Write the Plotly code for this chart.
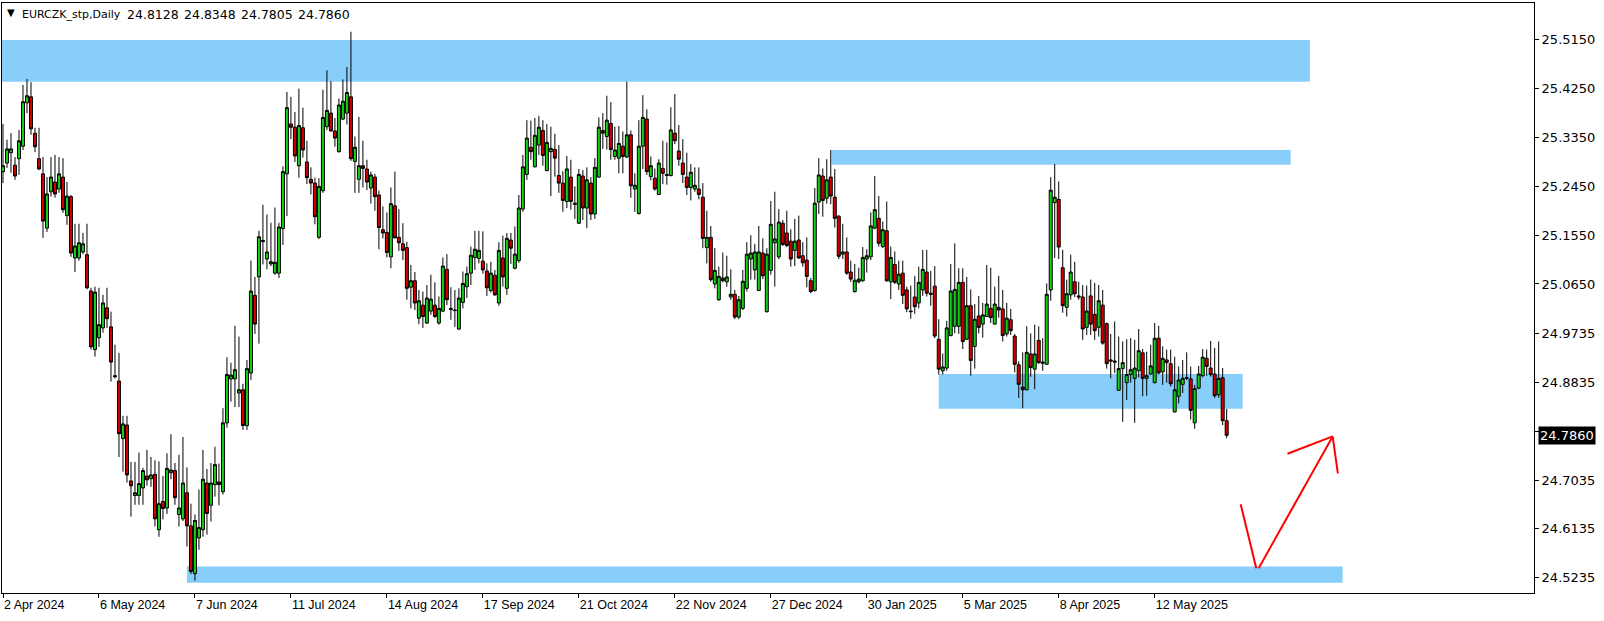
import plotly.graph_objects as go

# ---------------- data ----------------
opens = [
    25.272, 25.288, 25.307, 25.284, 25.296, 25.319, 25.399, 25.410, 25.343, 25.296,
    25.268, 25.168, 25.235, 25.253, 25.240, 25.262, 25.191, 25.226, 25.113, 25.113,
    25.124, 25.119, 25.052, 24.944, 24.966, 24.984, 25.021, 24.986, 24.896, 24.886,
    24.780, 24.805, 24.702, 24.675, 24.675, 24.689, 24.711, 24.706, 24.714, 24.612,
    24.664, 24.652, 24.717, 24.721, 24.640, 24.632, 24.680, 24.619, 24.531, 24.597,
    24.612, 24.698, 24.657, 24.695, 24.700, 24.682, 24.809, 24.890, 24.890, 24.864,
    24.870, 24.804, 24.901, 25.044, 25.078, 25.143, 25.111, 25.102, 25.085, 25.085,
    25.167, 25.268, 25.360, 25.354, 25.283, 25.353, 25.290, 25.258, 25.251, 25.151,
    25.237, 25.355, 25.380, 25.347, 25.309, 25.369, 25.380, 25.410, 25.291, 25.258,
    25.283, 25.277, 25.242, 25.262, 25.229, 25.165, 25.160, 25.115, 25.209, 25.151,
    25.139, 25.132, 25.059, 25.071, 25.002, 25.026, 24.993, 25.015, 25.026, 24.993,
    25.015, 25.092, 25.020, 25.017, 24.982, 25.031, 25.060, 25.085, 25.114, 25.112,
    25.107, 25.089, 25.053, 25.081, 25.030, 25.113, 25.057, 25.146, 25.094, 25.108,
    25.203, 25.267, 25.317, 25.281, 25.321, 25.348, 25.274, 25.309, 25.313, 25.265,
    25.251, 25.217, 25.262, 25.214, 25.177, 25.264, 25.205, 25.251, 25.194, 25.262,
    25.348, 25.337, 25.361, 25.300, 25.297, 25.319, 25.299, 25.340, 25.240, 25.195,
    25.319, 25.369, 25.263, 25.260, 25.230, 25.278, 25.267, 25.265, 25.343, 25.310,
    25.288, 25.262, 25.243, 25.240, 25.240, 25.225, 25.132, 25.151, 25.065, 25.036,
    25.076, 25.069, 25.041, 25.046, 25.004, 25.020, 25.057, 25.111, 25.091, 25.053,
    25.122, 25.014, 25.090, 25.141, 25.115, 25.177, 25.159, 25.144, 25.127, 25.146,
    25.117, 25.109, 25.071, 25.053, 25.216, 25.264, 25.223, 25.262, 25.225, 25.190,
    25.120, 25.124, 25.087, 25.051, 25.069, 25.071, 25.111, 25.115, 25.168, 25.186,
    25.134, 25.163, 25.069, 25.101, 25.065, 25.085, 25.054, 25.015, 25.041, 25.030,
    25.054, 25.087, 25.048, 25.061, 24.963, 24.905, 24.910, 24.970, 24.987, 24.987,
    25.068, 24.963, 25.025, 24.950, 25.006, 24.991, 25.005, 25.020, 24.991, 25.022,
    25.019, 24.973, 24.999, 24.969, 24.916, 24.875, 24.870, 24.936, 24.908, 24.961,
    24.921, 24.917, 25.054, 25.215, 25.221, 25.095, 25.022, 25.045, 25.069, 25.043,
    25.041, 24.985, 25.043, 25.009, 24.985, 25.026, 24.992, 24.925, 24.923, 24.869,
    24.909, 24.883, 24.898, 24.891, 24.905, 24.938, 24.891, 24.899, 24.883, 24.965,
    24.903, 24.925, 24.918, 24.829, 24.858, 24.880, 24.891, 24.890, 24.809, 24.873,
    24.896, 24.928, 24.910, 24.899, 24.861, 24.892, 24.8128,
]
highs = [
    25.360, 25.331, 25.343, 25.299, 25.349, 25.432, 25.443, 25.437, 25.353, 25.353,
    25.299, 25.262, 25.299, 25.303, 25.299, 25.297, 25.253, 25.229, 25.176, 25.176,
    25.159, 25.176, 25.058, 25.060, 25.058, 25.045, 25.058, 25.014, 24.953, 24.938,
    24.822, 24.822, 24.737, 24.737, 24.754, 24.726, 24.759, 24.746, 24.740, 24.738,
    24.711, 24.753, 24.788, 24.735, 24.750, 24.783, 24.727, 24.660, 24.640, 24.686,
    24.759, 24.724, 24.735, 24.765, 24.734, 24.836, 24.930, 24.920, 24.988, 24.968,
    24.881, 24.925, 25.108, 25.078, 25.163, 25.211, 25.193, 25.178, 25.206, 25.178,
    25.282, 25.419, 25.410, 25.382, 25.425, 25.390, 25.329, 25.280, 25.261, 25.260,
    25.423, 25.459, 25.439, 25.371, 25.407, 25.442, 25.465, 25.530, 25.337, 25.373,
    25.329, 25.294, 25.272, 25.268, 25.237, 25.208, 25.197, 25.243, 25.272, 25.203,
    25.177, 25.143, 25.100, 25.087, 25.054, 25.051, 25.063, 25.082, 25.068, 25.042,
    25.114, 25.120, 25.059, 25.054, 25.057, 25.088, 25.097, 25.134, 25.163, 25.163,
    25.162, 25.103, 25.106, 25.091, 25.142, 25.154, 25.159, 25.159, 25.171, 25.229,
    25.303, 25.367, 25.366, 25.371, 25.375, 25.367, 25.360, 25.355, 25.342, 25.321,
    25.273, 25.301, 25.294, 25.245, 25.277, 25.275, 25.280, 25.262, 25.297, 25.372,
    25.380, 25.412, 25.400, 25.355, 25.356, 25.346, 25.438, 25.348, 25.269, 25.367,
    25.413, 25.387, 25.300, 25.278, 25.295, 25.329, 25.326, 25.391, 25.415, 25.358,
    25.332, 25.307, 25.286, 25.280, 25.280, 25.251, 25.200, 25.172, 25.131, 25.097,
    25.123, 25.117, 25.092, 25.054, 25.043, 25.091, 25.142, 25.155, 25.139, 25.172,
    25.149, 25.131, 25.218, 25.235, 25.203, 25.183, 25.200, 25.166, 25.185, 25.191,
    25.142, 25.151, 25.076, 25.242, 25.297, 25.278, 25.295, 25.312, 25.277, 25.192,
    25.176, 25.151, 25.108, 25.102, 25.095, 25.133, 25.129, 25.197, 25.264, 25.227,
    25.180, 25.217, 25.134, 25.125, 25.108, 25.108, 25.060, 25.062, 25.080, 25.097,
    25.128, 25.128, 25.089, 25.098, 25.000, 24.937, 24.997, 25.102, 25.140, 25.094,
    25.094, 25.078, 25.055, 25.028, 25.043, 25.030, 25.100, 25.095, 25.060, 25.080,
    25.054, 25.030, 25.019, 24.973, 24.922, 24.939, 24.987, 24.974, 24.990, 24.987,
    24.965, 25.066, 25.262, 25.286, 25.254, 25.128, 25.073, 25.119, 25.106, 25.069,
    25.063, 25.062, 25.073, 25.067, 25.063, 25.054, 24.994, 24.973, 24.996, 24.968,
    24.959, 24.963, 24.965, 24.962, 24.982, 24.945, 24.940, 24.953, 24.993, 24.988,
    24.950, 24.944, 24.944, 24.931, 24.913, 24.925, 24.939, 24.913, 24.879, 24.914,
    24.945, 24.944, 24.960, 24.947, 24.959, 24.910, 24.8348,
]
lows = [
    25.251, 25.279, 25.270, 25.257, 25.266, 25.312, 25.380, 25.340, 25.308, 25.275,
    25.150, 25.161, 25.226, 25.224, 25.233, 25.196, 25.174, 25.115, 25.087, 25.108,
    25.120, 25.055, 24.944, 24.931, 24.949, 24.975, 24.984, 24.885, 24.891, 24.746,
    24.719, 24.699, 24.636, 24.658, 24.658, 24.658, 24.693, 24.691, 24.618, 24.599,
    24.631, 24.641, 24.705, 24.658, 24.618, 24.628, 24.581, 24.530, 24.518, 24.575,
    24.599, 24.603, 24.627, 24.673, 24.657, 24.677, 24.800, 24.848, 24.838, 24.838,
    24.796, 24.796, 24.888, 24.973, 24.955, 25.101, 25.092, 25.098, 25.082, 25.076,
    25.137, 25.190, 25.332, 25.290, 25.261, 25.298, 25.249, 25.230, 25.175, 25.148,
    25.233, 25.349, 25.346, 25.318, 25.307, 25.367, 25.359, 25.292, 25.233, 25.233,
    25.243, 25.238, 25.213, 25.200, 25.129, 25.149, 25.114, 25.094, 25.149, 25.126,
    25.109, 25.036, 25.020, 25.017, 24.991, 24.984, 24.991, 25.008, 25.002, 24.990,
    25.013, 25.026, 24.999, 24.986, 24.980, 25.020, 25.039, 25.063, 25.091, 25.103,
    25.084, 25.043, 25.049, 25.043, 25.025, 25.060, 25.045, 25.102, 25.092, 25.104,
    25.198, 25.257, 25.294, 25.280, 25.303, 25.283, 25.273, 25.227, 25.263, 25.233,
    25.198, 25.205, 25.202, 25.185, 25.176, 25.183, 25.168, 25.183, 25.185, 25.261,
    25.314, 25.313, 25.294, 25.294, 25.269, 25.269, 25.297, 25.224, 25.198, 25.193,
    25.277, 25.266, 25.256, 25.237, 25.229, 25.249, 25.248, 25.263, 25.323, 25.283,
    25.251, 25.229, 25.219, 25.235, 25.221, 25.131, 25.103, 25.069, 25.057, 25.034,
    25.068, 25.060, 25.036, 25.000, 25.000, 25.017, 25.051, 25.073, 25.073, 25.052,
    25.074, 25.012, 25.082, 25.060, 25.111, 25.135, 25.133, 25.097, 25.098, 25.111,
    25.097, 25.059, 25.048, 25.051, 25.194, 25.189, 25.213, 25.212, 25.169, 25.111,
    25.111, 25.082, 25.069, 25.049, 25.066, 25.069, 25.086, 25.109, 25.166, 25.134,
    25.131, 25.069, 25.037, 25.065, 25.054, 25.028, 25.013, 25.001, 25.010, 25.020,
    25.043, 25.042, 25.025, 24.965, 24.898, 24.898, 24.905, 24.968, 24.974, 24.973,
    24.945, 24.962, 24.896, 24.909, 24.974, 24.966, 25.004, 24.993, 24.990, 25.003,
    24.959, 24.968, 24.971, 24.902, 24.855, 24.836, 24.869, 24.894, 24.871, 24.918,
    24.905, 24.916, 25.034, 25.113, 25.111, 25.012, 25.005, 25.036, 25.041, 25.036,
    24.962, 24.971, 24.971, 24.962, 24.968, 24.953, 24.909, 24.891, 24.901, 24.868,
    24.811, 24.851, 24.883, 24.809, 24.893, 24.858, 24.859, 24.898, 24.882, 24.898,
    24.879, 24.883, 24.876, 24.828, 24.845, 24.864, 24.888, 24.815, 24.798, 24.871,
    24.893, 24.896, 24.894, 24.855, 24.855, 24.805, 24.7805,
]
closes = [
    25.283, 25.314, 25.314, 25.264, 25.329, 25.401, 25.412, 25.351, 25.318, 25.277,
    25.181, 25.231, 25.262, 25.231, 25.268, 25.202, 25.227, 25.122, 25.135, 25.141,
    25.139, 25.058, 24.949, 25.050, 24.990, 25.030, 25.001, 24.921, 24.894, 24.789,
    24.807, 24.713, 24.693, 24.680, 24.697, 24.721, 24.704, 24.713, 24.632, 24.660,
    24.651, 24.725, 24.722, 24.671, 24.652, 24.698, 24.619, 24.535, 24.629, 24.616,
    24.705, 24.642, 24.698, 24.732, 24.695, 24.809, 24.898, 24.897, 24.907, 24.870,
    24.804, 24.909, 25.052, 24.991, 25.152, 25.145, 25.124, 25.106, 25.105, 25.170,
    25.272, 25.390, 25.354, 25.301, 25.357, 25.312, 25.261, 25.251, 25.189, 25.245,
    25.372, 25.385, 25.347, 25.334, 25.395, 25.402, 25.418, 25.296, 25.317, 25.283,
    25.278, 25.253, 25.266, 25.226, 25.169, 25.159, 25.123, 25.213, 25.150, 25.141,
    25.127, 25.057, 25.071, 25.030, 25.034, 25.005, 25.039, 25.037, 25.005, 25.020,
    25.098, 25.036, 25.018, 25.016, 25.039, 25.066, 25.084, 25.118, 25.129, 25.127,
    25.091, 25.058, 25.085, 25.045, 25.127, 25.078, 25.149, 25.131, 25.120, 25.205,
    25.281, 25.334, 25.309, 25.339, 25.354, 25.302, 25.326, 25.315, 25.297, 25.251,
    25.219, 25.277, 25.217, 25.212, 25.267, 25.205, 25.257, 25.194, 25.280, 25.354,
    25.343, 25.367, 25.313, 25.312, 25.324, 25.300, 25.340, 25.246, 25.247, 25.319,
    25.372, 25.272, 25.283, 25.240, 25.288, 25.269, 25.265, 25.349, 25.329, 25.295,
    25.267, 25.243, 25.271, 25.247, 25.230, 25.149, 25.151, 25.073, 25.090, 25.079,
    25.071, 25.078, 25.046, 25.004, 25.036, 25.070, 25.120, 25.122, 25.124, 25.124,
    25.080, 25.120, 25.175, 25.148, 25.179, 25.138, 25.136, 25.111, 25.144, 25.113,
    25.104, 25.079, 25.051, 25.214, 25.266, 25.219, 25.257, 25.227, 25.186, 25.116,
    25.124, 25.085, 25.074, 25.072, 25.074, 25.114, 25.117, 25.172, 25.202, 25.140,
    25.165, 25.071, 25.114, 25.068, 25.083, 25.044, 25.019, 25.014, 25.023, 25.068,
    25.092, 25.048, 25.046, 24.969, 24.908, 24.912, 24.984, 25.052, 25.055, 25.068,
    24.959, 25.025, 24.924, 25.000, 24.985, 25.008, 25.028, 25.003, 25.028, 25.017,
    24.970, 25.002, 24.979, 24.917, 24.880, 24.870, 24.939, 24.911, 24.936, 24.920,
    24.919, 25.046, 25.238, 25.225, 25.133, 25.025, 25.047, 25.087, 25.047, 25.041,
    24.982, 25.015, 24.991, 24.979, 25.034, 24.956, 24.918, 24.923, 24.921, 24.909,
    24.920, 24.898, 24.907, 24.910, 24.942, 24.891, 24.896, 24.914, 24.965, 24.901,
    24.928, 24.920, 24.881, 24.870, 24.888, 24.891, 24.892, 24.832, 24.872, 24.899,
    24.930, 24.913, 24.898, 24.859, 24.891, 24.813, 24.7860,
]

symbol = "EURCZK_stp,Daily"
last_ohlc = ["24.8128", "24.8348", "24.7805", "24.7860"]
current_price = 24.7860

# date axis labels (every 24th daily bar)
tick_bars = [0, 24, 48, 72, 96, 120, 144, 168, 192, 216, 240, 264, 288]
tick_dates = ["2 Apr 2024", "6 May 2024", "7 Jun 2024", "11 Jul 2024", "14 Aug 2024",
              "17 Sep 2024", "21 Oct 2024", "22 Nov 2024", "27 Dec 2024", "30 Jan 2025",
              "5 Mar 2025", "8 Apr 2025", "12 May 2025"]
price_ticks = [25.5150, 25.4250, 25.3350, 25.2450, 25.1550, 25.0650, 24.9735,
               24.8835, 24.7935, 24.7035, 24.6135, 24.5235]

# drawn objects: zones (bar_from, bar_to, price_top, price_bottom)
zones = [
    (-5.0, 326.8, 25.515, 25.438),
    (207.2, 322.0, 25.312, 25.285),
    (234.0, 310.0, 24.899, 24.835),
    (46.0, 335.0, 24.544, 24.514),
]
# red trend lines: (bar0, price0, bar1, price1)
red_lines = [
    (309.5, 24.659, 313.4, 24.541),
    (314.0, 24.541, 332.5, 24.784),
    (332.5, 24.784, 321.2, 24.752),
    (332.5, 24.784, 333.8, 24.716),
]

n = min(len(opens), len(highs), len(lows), len(closes))
bars = list(range(n))

GREEN = "#1ccc1c"
RED = "#d00000"
HEAD_FONT = dict(family="DejaVu Sans", size=12.5, color="black")

fig = go.Figure()
fig.add_trace(go.Candlestick(
    x=bars, open=opens[:n], high=highs[:n], low=lows[:n], close=closes[:n],
    increasing=dict(line=dict(color="black", width=1), fillcolor=GREEN),
    decreasing=dict(line=dict(color="black", width=1), fillcolor=RED),
    whiskerwidth=0, hoverinfo="skip", showlegend=False,
))

shapes = []
for b0, b1, ptop, pbot in zones:
    shapes.append(dict(type="rect", xref="x", yref="y", x0=b0, x1=b1, y0=pbot, y1=ptop,
                       fillcolor="#87cefa", line=dict(width=0), layer="below"))
for b0, p0, b1, p1 in red_lines:
    shapes.append(dict(type="line", xref="x", yref="y", x0=b0, y0=p0, x1=b1, y1=p1,
                       line=dict(color="#ff0000", width=2), layer="above"))

annotations = [
    dict(xref="paper", yref="paper", x=0, y=1, xanchor="left", yanchor="top",
         xshift=3, yshift=-2, showarrow=False, text="\u25bc",
         font=dict(family="DejaVu Sans", size=10, color="black")),
    dict(xref="paper", yref="paper", x=0, y=1, xanchor="left", yanchor="top",
         xshift=18, yshift=-3, showarrow=False, text=symbol,
         font=dict(family="DejaVu Sans", size=11, color="black")),
]
for k, txt in enumerate(last_ohlc):
    annotations.append(dict(xref="paper", yref="paper", x=0, y=1, xanchor="left", yanchor="top",
                            xshift=123 + 57 * k, yshift=-2, showarrow=False, text=txt, font=HEAD_FONT))
annotations.append(
    dict(xref="paper", yref="y", x=1, y=current_price, xanchor="left", yanchor="middle",
         xshift=4, showarrow=False, text="%.4f" % current_price,
         bgcolor="black", borderpad=1,
         font=dict(family="DejaVu Sans", size=13, color="white")))

fig.update_layout(
    width=1604, height=621,
    margin=dict(l=2, r=70, t=3, b=28, pad=0),
    paper_bgcolor="white", plot_bgcolor="white",
    showlegend=False, shapes=shapes, annotations=annotations,
    boxgap=0.25, boxgroupgap=0,
    hovermode=False,
)
fig.update_xaxes(
    range=[-0.25, 382.85], rangeslider=dict(visible=False),
    tickmode="array", tickvals=tick_bars, ticktext=tick_dates,
    ticks="outside", ticklen=4, tickcolor="black", tickwidth=1,
    ticklabelposition="outside right",
    showline=True, linecolor="black", linewidth=1, mirror=True,
    showgrid=False, zeroline=False,
    tickfont=dict(family="Liberation Sans Narrow, Liberation Sans", size=12.5, color="black"),
)
fig.update_yaxes(
    side="right", range=[24.4953, 25.583],
    tickmode="array", tickvals=price_ticks, ticktext=["%.4f" % v for v in price_ticks],
    ticks="outside", ticklen=4, tickcolor="black", tickwidth=1,
    showline=True, linecolor="black", linewidth=1, mirror=True,
    showgrid=False, zeroline=False,
    tickfont=dict(family="DejaVu Sans", size=13, color="black"),
)

fig.write_html("out.html", config={"displayModeBar": False, "staticPlot": True},
               post_script="document.body.style.margin='0';")
